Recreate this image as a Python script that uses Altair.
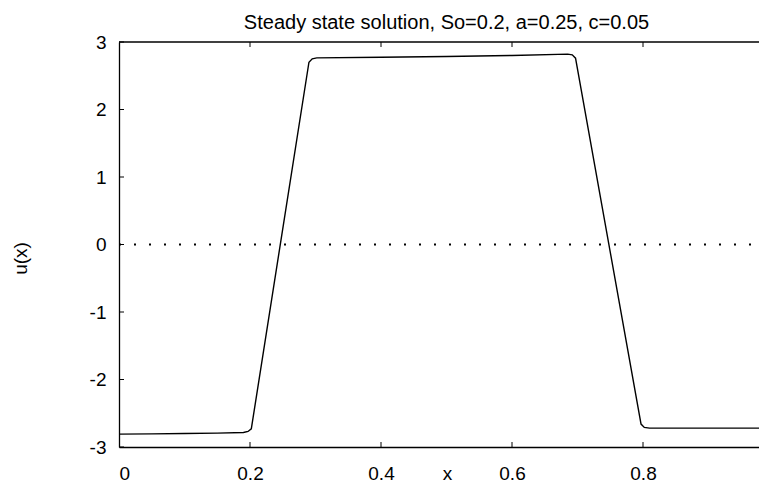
import altair as alt
import pandas as pd

# data
x_vals = [0.0, 0.05, 0.10, 0.15, 0.19, 0.197, 0.202, 0.290, 0.295, 0.302, 0.40, 0.50,
          0.60, 0.685, 0.692, 0.697, 0.797, 0.802, 0.81, 0.90, 1.0]
u_vals = [-2.81, -2.805, -2.80, -2.795, -2.785, -2.77, -2.73, 2.70, 2.75, 2.765, 2.775,
          2.785, 2.80, 2.82, 2.81, 2.76, -2.66, -2.71, -2.72, -2.72, -2.72]
x_ticks = [0, 0.2, 0.4, 0.6, 0.8, 1.0]
y_ticks = [-3, -2, -1, 0, 1, 2, 3]
zero_level = [0]
top_level = [3]
title_text = "Steady state solution, So=0.2, a=0.25, c=0.05"

W, H = 655, 405
XMAX = 1.0
FONT = "Liberation Sans"

df = pd.DataFrame({"x": x_vals, "u": u_vals})
xs = alt.Scale(domain=[0, XMAX], nice=False, zero=False)
ys = alt.Scale(domain=[-3, 3], nice=False, zero=False)

x_axis = alt.Axis(values=x_ticks[:-1], title="x", labelExpr="toString(datum.value)",
                  ticks=False, grid=False, labelPadding=17, titleX=328, titleY=32,
                  titleBaseline="alphabetic")
y_axis = alt.Axis(values=y_ticks, title="u(x)", labelExpr="toString(datum.value)",
                  ticks=False, grid=False, labelPadding=13, titleX=-99, titleY=216,
                  titleBaseline="middle")

curve = alt.Chart(df).mark_line(color="black", strokeWidth=1.4, clip=True).encode(
    x=alt.X("x:Q", scale=xs, axis=x_axis),
    y=alt.Y("u:Q", scale=ys, axis=y_axis),
)

zero_line = alt.Chart(pd.DataFrame({"u": zero_level})).mark_rule(
    color="black", strokeWidth=2, strokeDash=[2, 13]
).encode(y=alt.Y("u:Q", scale=ys, axis=y_axis), x=alt.value(0), x2=alt.value(W))

top_border = alt.Chart(pd.DataFrame({"u": top_level})).mark_rule(
    color="black", strokeWidth=1.3
).encode(y=alt.Y("u:Q", scale=ys, axis=y_axis), x=alt.value(0), x2=alt.value(W))

xt = pd.DataFrame({"x": x_ticks})
yt = pd.DataFrame({"u": y_ticks})
xticks_bottom = alt.Chart(xt).mark_rule(color="black", strokeWidth=1, clip=True).encode(
    x=alt.X("x:Q", scale=xs, axis=x_axis), y=alt.value(H), y2=alt.value(H - 5))
xticks_top = alt.Chart(xt).mark_rule(color="black", strokeWidth=1, clip=True).encode(
    x=alt.X("x:Q", scale=xs, axis=x_axis), y=alt.value(0), y2=alt.value(5))
yticks_left = alt.Chart(yt).mark_rule(color="black", strokeWidth=1).encode(
    y=alt.Y("u:Q", scale=ys, axis=y_axis), x=alt.value(0), x2=alt.value(5))

chart = alt.layer(curve, zero_line, top_border, xticks_bottom, xticks_top, yticks_left).properties(
    width=W, height=H,
    title=alt.TitleParams(title_text, fontSize=20, font=FONT, fontWeight="normal",
                          color="black", anchor="middle", offset=0, frame="group"),
    autosize=alt.AutoSizeParams(type="none"),
    padding={"left": 111, "top": 34, "right": -15, "bottom": 37},
).configure_view(stroke=None).configure_axis(
    domainColor="black", domainWidth=1.3, labelColor="black", titleColor="black",
    labelFont=FONT, titleFont=FONT, labelFontSize=19, titleFontSize=19,
    titleFontWeight="normal",
)

chart.save("out.html", embed_options={"renderer": "svg", "actions": False})
